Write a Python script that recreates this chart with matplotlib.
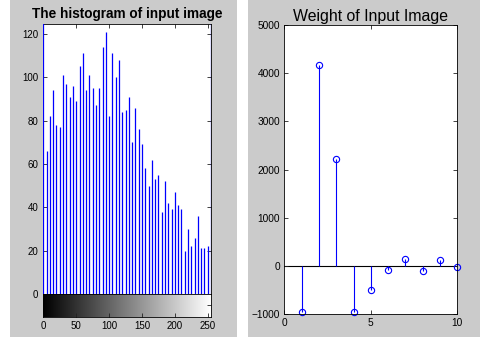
import numpy as np
import matplotlib.pyplot as plt
from matplotlib.patches import Rectangle

plt.rcParams['font.family'] = ['Liberation Sans', 'DejaVu Sans']

# histogram of the input image: gray level -> pixel count
gray_levels = [0, 5, 10, 15, 20, 25, 30, 35, 40, 45, 50, 55, 60, 65, 70, 75, 80,
               85, 90, 95, 100, 105, 110, 115, 120, 125, 130, 135, 140, 145, 150,
               155, 160, 165, 170, 175, 180, 185, 190, 195, 200, 205, 210, 215,
               220, 225, 230, 235, 240, 245, 250, 255]
counts = [160, 66, 82, 94, 78, 77, 101, 97, 91, 96, 89, 105, 111, 94, 101, 95, 87,
          95, 114, 121, 82, 111, 100, 108, 84, 85, 91, 70, 86, 76, 69, 58, 50,
          62, 53, 55, 38, 52, 42, 39, 47, 41, 39, 20, 30, 22, 26, 36, 21, 21,
          22, 160]

# weights of the input image
weight_idx = [1, 2, 3, 4, 5, 6, 7, 8, 9, 10]
weights = [-960, 4170, 2230, -950, -490, -80, 150, -110, 130, -20]

hist_yticks = [0, 20, 40, 60, 80, 100, 120]
level_ticks = [0, 50, 100, 150, 200, 250]
weight_yticks = [-1000, 0, 1000, 2000, 3000, 4000, 5000]
weight_xticks = [0, 5, 10]

panel_gray = '#cbcbcb'
fig = plt.figure(figsize=(4.8, 3.37), dpi=100, facecolor='white')
fig.add_artist(Rectangle((0.021, 0.0), 0.473, 1.0, transform=fig.transFigure,
                         facecolor=panel_gray, edgecolor='none', zorder=-10))
fig.add_artist(Rectangle((0.517, 0.0), 0.483, 1.0, transform=fig.transFigure,
                         facecolor=panel_gray, edgecolor='none', zorder=-10))

tick_kw = dict(direction='in', length=3, width=0.6, color='#222222')

# left: histogram with gray-scale bar underneath
ax_h = fig.add_axes([0.0903, 0.1276, 0.3493, 0.8012])
ax_h.vlines(gray_levels, 0, counts, color='blue', lw=0.9, zorder=3)
ax_h.set_xlim(0, 255)
ax_h.set_ylim(0, 124.6)
ax_h.set_yticks(hist_yticks)
ax_h.set_xticks(level_ticks)
ax_h.tick_params(top=True, right=True, labelbottom=False, labelsize=7, pad=3.5, **tick_kw)
ax_h.set_title('The histogram of input image', fontsize=9.8, fontweight='bold', pad=4)
for sp in ax_h.spines.values():
    sp.set_linewidth(0.6)

ax_c = fig.add_axes([0.0903, 0.0602, 0.3493, 0.0674])
ramp = np.linspace(0, 1, 256).reshape(1, -1)
ax_c.imshow(ramp, cmap='gray', aspect='auto', extent=(0, 255, 0, 1))
ax_c.set_xlim(0, 255)
ax_c.set_ylim(0, 1)
ax_c.set_xticks(level_ticks)
ax_c.set_yticks([0.5])
ax_c.tick_params(left=False, right=True, labelleft=False, labelsize=7, pad=3, **tick_kw)
for sp in ax_c.spines.values():
    sp.set_linewidth(0.6)

# right: stem plot of the weights
ax_w = fig.add_axes([0.5923, 0.0674, 0.3604, 0.8584])
markerline, stemlines, baseline = ax_w.stem(weight_idx, weights, linefmt='b-',
                                            markerfmt='o', basefmt='k-')
markerline.set_markerfacecolor('none')
markerline.set_markeredgecolor('blue')
markerline.set_markersize(4.5)
markerline.set_markeredgewidth(0.8)
markerline.set_clip_on(False)
stemlines.set_linewidth(0.8)
baseline.set_visible(False)
ax_w.axhline(0, color='black', lw=0.8, zorder=1)
ax_w.set_xlim(0, 10)
ax_w.set_ylim(-1000, 5000)
ax_w.set_xticks(weight_xticks)
ax_w.set_yticks(weight_yticks)
ax_w.tick_params(top=True, right=True, labelsize=7.3, pad=3, **tick_kw)
ax_w.set_title('Weight of Input Image', fontsize=11.4, pad=3)
for sp in ax_w.spines.values():
    sp.set_linewidth(0.6)

fig.savefig('out.png', dpi=100, facecolor=fig.get_facecolor())
